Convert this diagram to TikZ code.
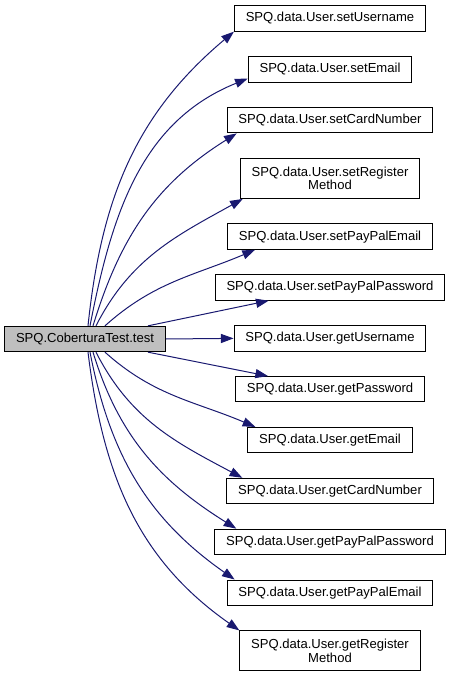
\documentclass[tikz,border=0pt]{standalone}
\usepackage{fontspec}
\setmainfont{Liberation Sans}
\usepackage{xcolor}
\usetikzlibrary{arrows.meta, positioning}
\definecolor{edgeblue}{HTML}{191970}
\definecolor{selgray}{HTML}{BFBFBF}

\begin{document}
\begin{tikzpicture}[
    x=0.75pt, y=0.75pt,
    font=\fontsize{9.8}{10}\selectfont,
    node distance=18.4pt,
    fn/.style={rectangle, draw=black, line width=0.75pt, fill=white,
               align=center, inner xsep=8.5pt, minimum height=19pt},
    fntwo/.style={fn, minimum height=30pt},
    call/.style={-{Triangle[length=9.5pt, width=6.8pt]},
                 draw=edgeblue, line width=0.75pt}
]
\useasboundingbox (0,0) rectangle (451,-677);

\node[fn, fill=selgray] at (85,-339)
    (main)      {SPQ.CoberturaTest.test};

% callees, one column
\node[fn] at (330,-18.5)
    (setUser)   {SPQ.data.User.setUsername};
\node[fn, below=of setUser]
    (setMail)   {SPQ.data.User.setEmail};
\node[fn, below=of setMail]
    (setCard)   {SPQ.data.User.setCardNumber};
\node[fntwo, below=of setCard]
    (setReg)    {SPQ.data.User.setRegister\\Method};
\node[fn, below=of setReg]
    (setPPMail) {SPQ.data.User.setPayPalEmail};
\node[fn, below=of setPPMail]
    (setPPPass) {SPQ.data.User.setPayPalPassword};
\node[fn, below=of setPPPass]
    (getUser)   {SPQ.data.User.getUsername};
\node[fn, below=of getUser]
    (getPass)   {SPQ.data.User.getPassword};
\node[fn, below=of getPass]
    (getMail)   {SPQ.data.User.getEmail};
\node[fn, below=of getMail]
    (getCard)   {SPQ.data.User.getCardNumber};
\node[fn, below=of getCard]
    (getPPPass) {SPQ.data.User.getPayPalPassword};
\node[fn, below=of getPPPass]
    (getPPMail) {SPQ.data.User.getPayPalEmail};
\node[fntwo, below=of getPPMail]
    (getReg)    {SPQ.data.User.getRegister\\Method};

% calls going up
\draw[call] ([shift={(3,0)}]main.north)  to[out=84, in=220] (setUser.south west);
\draw[call] ([shift={(5,0)}]main.north)  to[out=79, in=202] ([shift={(0,4)}]setMail.south west);
\draw[call] ([shift={(8,0)}]main.north)  to[out=73, in=212] ([shift={(10,0)}]setCard.south west);
\draw[call] ([shift={(11,0)}]main.north) to[out=63, in=209] ([shift={(3,0)}]setReg.south west);
\draw[call] ([shift={(20,0)}]main.north) to[out=42, in=203] ([shift={(28,0)}]setPPMail.south west);
\draw[call] ([shift={(63,0)}]main.north) -- ([shift={(54,0)}]setPPPass.south west);

\draw[call] (main.east) -- (getUser.west);

% calls going down
\draw[call] ([shift={(63,0)}]main.south) -- ([shift={(33,0)}]getPass.north west);
\draw[call] ([shift={(20,0)}]main.south) to[out=-42, in=157] ([shift={(8,0)}]getMail.north west);
\draw[call] ([shift={(11,0)}]main.south) to[out=-63, in=152] ([shift={(16,0)}]getCard.north west);
\draw[call] ([shift={(8,0)}]main.south)  to[out=-73, in=148] ([shift={(22,0)}]getPPPass.north west);
\draw[call] ([shift={(5,0)}]main.south)  to[out=-79, in=145] ([shift={(8,0)}]getPPMail.north west);
\draw[call] ([shift={(3,0)}]main.south)  to[out=-83, in=145] (getReg.north west);
\end{tikzpicture}
\end{document}
